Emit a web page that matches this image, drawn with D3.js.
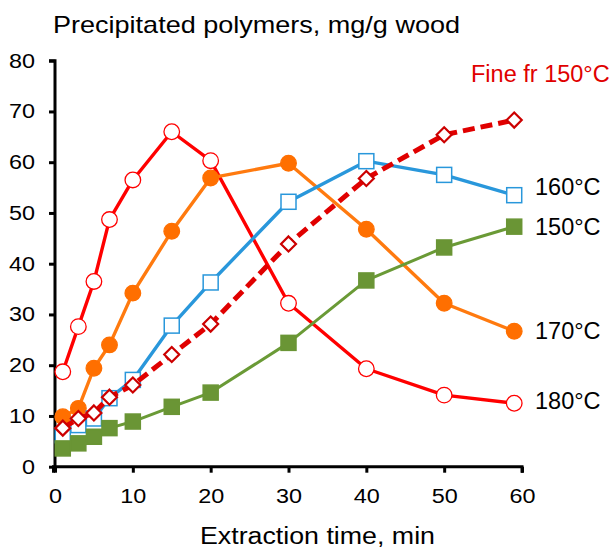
<!DOCTYPE html>
<html><head><meta charset="utf-8">
<script src="https://cdn.jsdelivr.net/npm/d3@7/dist/d3.min.js"></script>
<style>body{margin:0;background:#fff}svg{display:block}text{font-family:"Liberation Sans",Arial,sans-serif}</style>
</head><body><div id="chart"></div>
<script>
const times = [1, 3, 5, 7, 10, 15, 20, 30, 40, 50, 59];
const s180 = [18.7, 27.6, 36.5, 48.7, 56.5, 66.0, 60.3, 32.2, 19.3, 14.1, 12.5];
const s170 = [9.85, 11.5, 19.4, 24.0, 34.2, 46.4, 56.9, 59.8, 46.8, 32.2, 26.7];
const s160 = [6.2, 8.2, 9.5, 13.5, 17.1, 27.8, 36.3, 52.2, 60.2, 57.5, 53.5];
const s150 = [3.6, 4.6, 5.9, 7.6, 8.9, 11.8, 14.6, 24.4, 36.7, 43.2, 47.3];
const sFine = [7.6, 9.5, 10.6, 13.7, 16.1, 22.1, 28.1, 43.9, 56.8, 65.4, 68.3];
const xTicks = [0, 10, 20, 30, 40, 50, 60];
const yTicks = [0, 10, 20, 30, 40, 50, 60, 70, 80];
const seriesNames = ["180°C", "170°C", "160°C", "150°C", "Fine fr 150°C"];
const titleY = "Precipitated polymers, mg/g wood";
const titleX = "Extraction time, min";

const W = 612, H = 551;
const svg = d3.select("#chart").append("svg").attr("width", W).attr("height", H);
const x = d3.scaleLinear().domain([0, 60]).range([55, 522]);
const y = d3.scaleLinear().domain([0, 80]).range([466.7, 60.7]);

// axes
const gx = svg.append("g").attr("transform", `translate(0,${y(0)})`)
  .call(d3.axisBottom(x).tickValues(xTicks).tickSize(6).tickPadding(16));
const gy = svg.append("g").attr("transform", `translate(${x(0)},0)`)
  .call(d3.axisLeft(y).tickValues(yTicks).tickSize(6).tickPadding(14));
[gx, gy].forEach(g => {
  g.select(".domain").attr("stroke", "#000").attr("stroke-width", 3);
  g.selectAll(".tick line").attr("stroke", "#000").attr("stroke-width", 3);
  g.selectAll(".tick text").attr("font-size", 20).attr("fill", "#000")
   .attr("font-family", '"Liberation Sans",Arial,sans-serif')
   .attr("textLength", function() { return 13 * this.textContent.length; })
   .attr("lengthAdjust", "spacingAndGlyphs");
});
gx.select(".domain").attr("d", `M${x(0)-1.5},6V0H${x(60)}V6`);
gy.select(".domain").attr("d", `M-6,${y(80)}H0V${y(0)+1.5}`);

const data = (vals) => times.map((t, i) => ({t, v: vals[i]}));
const line = d3.line().x(d => x(d.t)).y(d => y(d.v));

const cfg = [
  {vals: s180, color: "#FF0000", w: 3.4, dash: null, marker: "circle", fill: "#fff", mstroke: "#FF0000"},
  {vals: s170, color: "#FF7A0F", w: 3.4, dash: null, marker: "circle", fill: "#FF6F00", mstroke: "#FF6F00"},
  {vals: s160, color: "#2997DB", w: 3.4, dash: null, marker: "square", fill: "#fff", mstroke: "#2997DB"},
  {vals: s150, color: "#6A9A36", w: 3, dash: null, marker: "square", fill: "#6A9535", mstroke: "#6A9535"},
  {vals: sFine, color: "#E00000", w: 5, dash: "12,6", marker: "diamond", fill: "#fff", mstroke: "#CC0000"}
];

cfg.forEach(c => {
  const g = svg.append("g");
  const d = data(c.vals);
  g.append("path").datum(d).attr("d", line).attr("fill", "none")
   .attr("stroke", c.color).attr("stroke-width", c.w)
   .attr("stroke-dasharray", c.dash).attr("stroke-linejoin", "round");
  const pts = g.selectAll(".m").data(d).enter();
  if (c.marker === "circle") {
    pts.append("circle").attr("cx", p => x(p.t)).attr("cy", p => y(p.v)).attr("r", 7.8)
      .attr("fill", c.fill).attr("stroke", c.mstroke).attr("stroke-width", 1.3);
  } else if (c.marker === "square") {
    pts.append("rect").attr("x", p => x(p.t) - 7.5).attr("y", p => y(p.v) - 7.5)
      .attr("width", 15).attr("height", 15)
      .attr("fill", c.fill).attr("stroke", c.mstroke).attr("stroke-width", 1.5);
  } else {
    pts.append("path").attr("d", p => {
      const cx = x(p.t), cy = y(p.v), r = 7.5;
      return `M${cx},${cy-r}L${cx+r},${cy}L${cx},${cy+r}L${cx-r},${cy}Z`;
    }).attr("fill", c.fill).attr("stroke", c.mstroke).attr("stroke-width", 2.2);
  }
});

// series labels
const lab = [
  {name: seriesNames[2], x: 535, y: 195, color: "#000"},
  {name: seriesNames[3], x: 535, y: 235, color: "#000"},
  {name: seriesNames[1], x: 535, y: 339, color: "#000"},
  {name: seriesNames[0], x: 535, y: 409, color: "#000"},
  {name: seriesNames[4], x: 471, y: 81.7, color: "#E00000"}
];
svg.selectAll(".lab").data(lab).enter().append("text")
  .attr("x", d => d.x).attr("y", d => d.y).attr("font-size", 23.5)
  .attr("fill", d => d.color).text(d => d.name);

svg.append("text").attr("x", 53).attr("y", 33.3).attr("font-size", 24)
  .attr("textLength", 407).attr("lengthAdjust", "spacingAndGlyphs").attr("fill", "#000").text(titleY);
svg.append("text").attr("x", 200).attr("y", 544.3).attr("font-size", 23.5)
  .attr("textLength", 235).attr("lengthAdjust", "spacingAndGlyphs").attr("fill", "#000").text(titleX);
</script></body></html>
